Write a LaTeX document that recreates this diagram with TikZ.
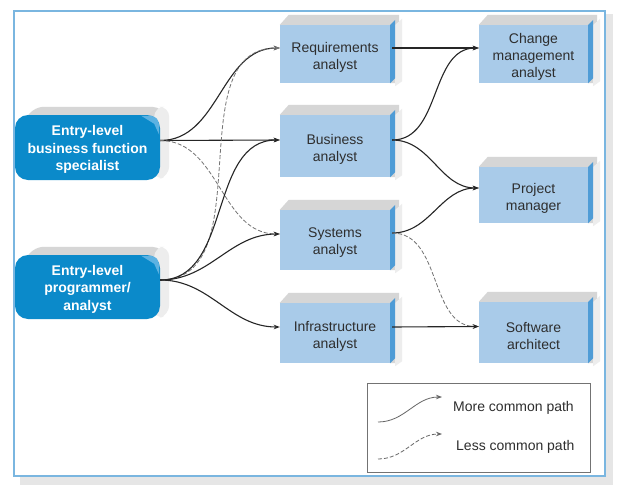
\documentclass[tikz,border=0pt]{standalone}
\usepackage{fontspec}
\setmainfont{Liberation Sans}
\usetikzlibrary{arrows.meta,calc}
\definecolor{frameblue}{HTML}{7AB6E0}
\definecolor{shadowgray}{HTML}{E6E6E6}
\definecolor{entryblue}{HTML}{0B8ACA}
\definecolor{bevelblue}{HTML}{5DB2E2}
\definecolor{boxfront}{HTML}{A9CBE9}
\definecolor{boxside}{HTML}{4F9CD6}
\definecolor{boxtop}{HTML}{D6D6D6}
\definecolor{txt}{HTML}{2E2E2E}
\pgfdeclarelayer{bg}
\pgfdeclarelayer{shad}
\pgfsetlayers{bg,shad,main}
\tikzset{
 entry/.style={rounded corners=13pt, fill=entryblue, minimum width=145pt, minimum height=65pt, inner sep=0pt},
 entrytext/.style={text=white, font=\fontsize{14}{17.5}\selectfont\bfseries, align=center, inner sep=0pt, yshift=-2pt},
 role/.style={fill=boxfront, minimum width=110pt, minimum height=60pt, inner sep=0pt},
 roletext/.style={text=txt, font=\fontsize{14}{17}\selectfont, align=center, inner sep=0pt, yshift=-3pt},
 morepath/.style={draw=black!85, line width=1.1pt, -{Stealth[length=6pt,width=4.5pt]}},
 lesspath/.style={draw=black!55, line width=0.8pt, dash pattern=on 4pt off 2pt, -{Stealth[length=6pt,width=4.5pt]}},
 legsolid/.style={draw=black!60, line width=0.8pt, -{Stealth[length=6pt,width=4.5pt]}},
 legdash/.style={draw=black!60, line width=0.8pt, dash pattern=on 4pt off 2pt, -{Stealth[length=6pt,width=4.5pt]}},
}
\begin{document}
\begin{tikzpicture}[x=1pt,y=-1pt]
\useasboundingbox (0,0) rectangle (625,496);
\begin{pgfonlayer}{bg}
\fill[white] (0,0) rectangle (625,496);
\fill[shadowgray] (20,14) rectangle (613,485);
\filldraw[fill=white, draw=frameblue, line width=1.2pt] (14,11) rectangle (605,476);
\draw[black!55, line width=0.8pt] (367,383) rectangle (590,472);
\end{pgfonlayer}

% left entry nodes
\node[entry, label={[entrytext]center:{Entry-level\\business function\\specialist}}] (lb) at (87.5,147.5) {};
\node[entry, minimum height=64pt, label={[entrytext]center:{Entry-level\\programmer/\\analyst}}] (lp) at (87.5,287) {};

% role boxes
\node[role, minimum height=58pt, label={[roletext]center:{Requirements\\analyst}}] (req) at (335,54) {};
\node[role, minimum height=62pt, label={[roletext]center:{Business\\analyst}}] (bus) at (335,146) {};
\node[role, label={[roletext]center:{Systems\\analyst}}] (sys) at (335,240) {};
\node[role, label={[roletext]center:{Infrastructure\\analyst}}] (inf) at (335,333) {};
\node[role, minimum width=109pt, minimum height=58pt, label={[roletext]center:{Change\\management\\analyst}}] (chg) at (533.5,54) {};
\node[role, minimum width=109pt, minimum height=56pt, label={[roletext]center:{Project\\manager}}] (pm) at (533.5,195) {};
\node[role, minimum width=109pt, minimum height=61pt, label={[roletext]center:{Software\\architect}}] (sa) at (533.5,332.5) {};

\begin{pgfonlayer}{shad}
\foreach \n in {req,bus,sys,inf,chg,pm,sa}{
  \fill[boxtop] (\n.north west) -- ([shift={(9pt,10pt)}]\n.north west) -- ([shift={(9pt,10pt)}]\n.north east)
     -- ([shift={(9pt,0pt)}]\n.south east) -- (\n.south east) -- cycle;
  \fill[boxtop!45] ([shift={(5pt,0pt)}]\n.north east) -- ([shift={(12pt,6pt)}]\n.north east) -- ([shift={(12pt,2pt)}]\n.south east) -- ([shift={(5pt,-3pt)}]\n.south east) -- cycle;
}
\foreach \n in {lb,lp}{
  \fill[boxtop, rounded corners=13pt] ([shift={(8pt,-12pt)}]\n.north west) -- ([shift={(16pt,8pt)}]\n.north west)
     -- ([shift={(5pt,8pt)}]\n.north east) -- ([shift={(5pt,-20pt)}]\n.north east) -- (\n.east) -- cycle;
  \fill[boxtop!45, rounded corners=10pt] ([shift={(-6pt,8pt)}]\n.north east) -- ([shift={(9pt,8pt)}]\n.north east)
     -- ([shift={(9pt,4pt)}]\n.south east) -- ([shift={(-6pt,0pt)}]\n.south east) -- cycle;
}
\end{pgfonlayer}

% side faces
\foreach \n in {req,bus,sys,inf,chg,pm,sa}{
  \fill[boxside] (\n.north east) -- ([shift={(5pt,5pt)}]\n.north east) -- ([shift={(5pt,5pt)}]\n.south east) -- (\n.south east) -- cycle;
}
% bevels on entry nodes
\foreach \n in {lb,lp}{
  \fill[bevelblue] ([shift={(-19pt,-1pt)}]\n.north east) -- ([shift={(-9pt,-1pt)}]\n.north east)
     .. controls ([shift={(-3pt,-3pt)}]\n.north east) .. ([shift={(-1pt,-10pt)}]\n.north east)
     -- ([shift={(-1pt,-20pt)}]\n.north east) -- ([shift={(-6pt,-9pt)}]\n.north east) -- cycle;
}

% connectors
\draw[morepath] ([yshift=7pt]lb.east) to[out=0,in=180] ([yshift=6pt]req.west);
\draw[morepath] ([yshift=7pt]lb.east) -- ([yshift=6pt]bus.west);
\draw[lesspath] ([yshift=7pt]lb.east) to[out=0,in=180] ([yshift=6pt]sys.west);
\draw[lesspath] ([yshift=7pt]lp.east) to[out=0,in=180] ([yshift=6pt]req.west);
\draw[morepath] ([yshift=7pt]lp.east) to[out=0,in=180] ([yshift=6pt]bus.west);
\draw[morepath] ([yshift=7pt]lp.east) to[out=0,in=180] ([yshift=6pt]sys.west);
\draw[morepath] ([yshift=7pt]lp.east) to[out=0,in=180] ([yshift=6pt]inf.west);

\draw[morepath] ([shift={(2pt,6pt)}]req.east) -- ([yshift=6pt]chg.west);
\draw[morepath] ([shift={(2pt,6pt)}]bus.east) to[out=0,in=180] ([yshift=6pt]chg.west);
\draw[morepath] ([shift={(2pt,6pt)}]bus.east) to[out=0,in=180] ([yshift=7pt]pm.west);
\draw[morepath] ([shift={(2pt,7pt)}]sys.east) to[out=0,in=180] ([yshift=7pt]pm.west);
\draw[lesspath] ([shift={(2pt,7pt)}]sys.east) to[out=0,in=180] ([yshift=6pt]sa.west);
\draw[morepath] ([shift={(2pt,6pt)}]inf.east) -- ([yshift=6pt]sa.west);

% legend
\coordinate (m1) at (378,422);
\coordinate (m2) at (442,397);
\coordinate (d1) at (378,459);
\coordinate (d2) at (442,434);
\draw[legsolid] (m1) to[out=0,in=180] (m2);
\draw[legdash] (d1) to[out=0,in=180] (d2);
\node[anchor=west, text=txt, font=\fontsize{14}{17}\selectfont, inner sep=0pt] (lm) at (453,408) {More common path};
\node[anchor=west, text=txt, font=\fontsize{14}{17}\selectfont, inner sep=0pt] (ll) at (456,447) {Less common path};
\end{tikzpicture}
\end{document}
